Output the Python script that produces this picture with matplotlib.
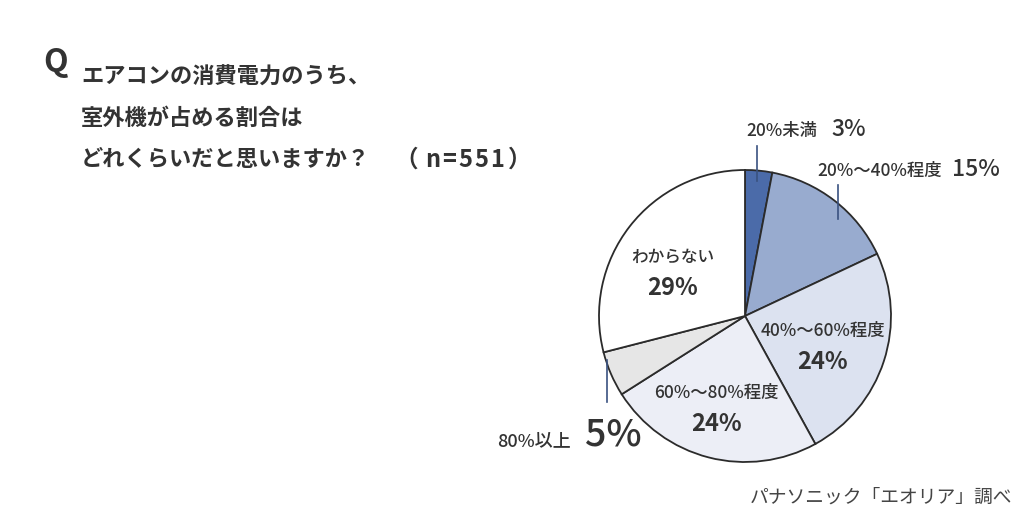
import matplotlib.pyplot as plt
from matplotlib.lines import Line2D

plt.rcParams['font.family'] = ['Noto Sans CJK JP', 'DejaVu Sans']

# data
categories = ['20%未満', '20%～40%程度', '40%～60%程度', '60%～80%程度', '80%以上', 'わからない']
values = [3, 15, 24, 24, 5, 29]
colors = ['#4b6ba9', '#98abcf', '#dce2f0', '#eceef6', '#e6e6e6', '#ffffff']
title_lines = ['エアコンの消費電力のうち、', '室外機が占める割合は', 'どれくらいだと思いますか？']
sample_note = '（n=551）'
source = 'パナソニック「エオリア」調べ'

W, H = 1024, 520
TXT = '#333333'
fig = plt.figure(figsize=(W / 100, H / 100), dpi=100)


def px(x, y):
    return x / W, 1 - y / H


# pie: center (745, 316), radius 146 px
cx, cy, r = 745, 316, 146
box = 150
ax = fig.add_axes([(cx - box) / W, (H - cy - box) / H, 2 * box / W, 2 * box / H])
ax.pie(values, colors=colors, startangle=90, counterclock=False, radius=1,
       wedgeprops=dict(edgecolor='#2b2b2b', linewidth=1.3))
lim = box / r
ax.set_xlim(-lim, lim)
ax.set_ylim(-lim, lim)
ax.set_aspect('equal')
ax.axis('off')

# title
fig.text(*px(43, 62), 'Q', fontsize=23, fontweight='bold', color=TXT, va='center', ha='left')
for i, line in enumerate(title_lines):
    fig.text(*px(81, 77 + i * 41.5), line, fontsize=16, fontweight='bold', color=TXT,
             va='center', ha='left')
# the (n=551) note is set a bit wider than the font's default spacing
note_x = [406, 433, 449, 465, 481, 497, 520]
for ch, x in zip(sample_note, note_x):
    fig.text(*px(x, 160), ch, fontsize=17, fontweight='bold', color=TXT,
             va='center', ha='center')


def label(x, y, name, val, size_name, size_val, gap=8):
    t = fig.text(*px(x, y), name, fontsize=size_name, color=TXT, va='baseline', ha='left',
                 fontweight='medium')
    fig.canvas.draw()
    bb = t.get_window_extent()
    fig.text((bb.x1 + gap) / W, 1 - y / H, f'{val}%', fontsize=size_val, color=TXT,
             va='baseline', ha='left', fontweight='medium')


def inner(x, y, name, val, size=12.5):
    fig.text(*px(x, y), name, fontsize=size, color=TXT, va='center', ha='center',
             fontweight='medium')
    fig.text(*px(x, y + 31), f'{val}%', fontsize=17, color=TXT, va='center', ha='center',
             fontweight='bold')


label(746, 136, categories[0], values[0], 12.5, 16.5, gap=14)
label(817, 176, categories[1], values[1], 12.5, 16.5, gap=10)
label(497, 446, categories[4], values[4], 13, 27, gap=14)

inner(823, 331, categories[2], values[2])
inner(716, 393, categories[3], values[3])
inner(673, 257, categories[5], values[5], size=12)

# leader lines
for (x, y0, y1) in [(757, 146, 181), (838, 185, 219), (607, 360, 402)]:
    fig.add_artist(Line2D([x / W, x / W], [1 - y0 / H, 1 - y1 / H], color='#3a5280', lw=1.2))

fig.text(*px(1012, 497), source, fontsize=13.5, color='#444444', va='center', ha='right')

fig.savefig('out.png', dpi=100, facecolor='white')
